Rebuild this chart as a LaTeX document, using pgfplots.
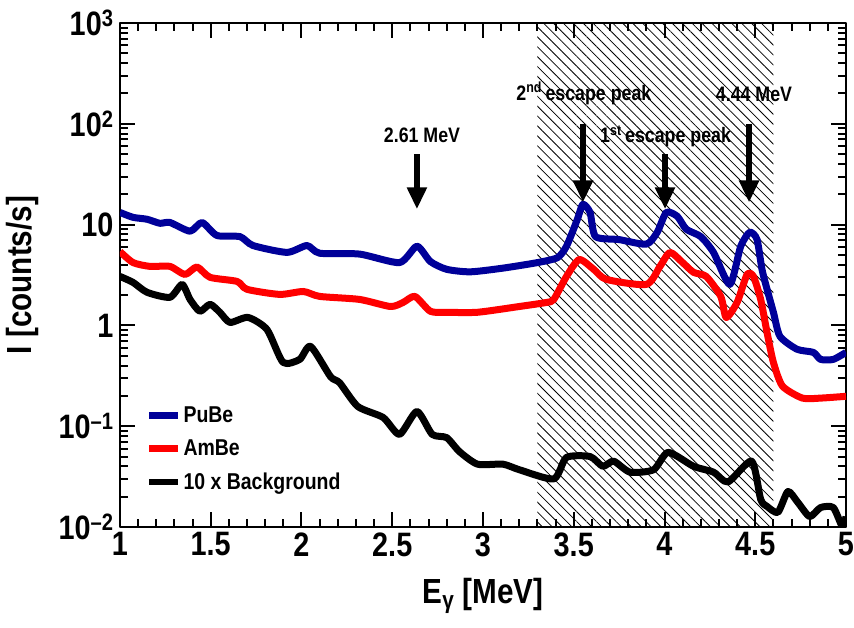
\documentclass[border=0pt]{standalone}
\usepackage{fontspec}
\setmainfont{Liberation Sans}[FakeStretch=0.85]
\usepackage{pgfplots}
\usepackage{pgfplotstable}
\pgfplotsset{compat=1.18}
\usetikzlibrary{patterns.meta,arrows.meta}
\definecolor{rootblue}{RGB}{0,0,153}
\definecolor{rootred}{RGB}{255,0,0}

\pgfplotstableread{
x y
1.000 13.2
1.072 11.8
1.149 11.3
1.220 10.3
1.275 10.5
1.386 8.6
1.452 10.5
1.534 7.8
1.661 7.6
1.733 6.2
1.920 5.3
2.030 6.2
2.100 5.2
2.320 5.1
2.540 4.2
2.636 6.1
2.710 4.3
2.800 3.6
2.930 3.4
3.110 3.7
3.300 4.2
3.410 4.7
3.460 6.1
3.520 11.3
3.550 15.9
3.590 13.2
3.620 7.6
3.750 7.1
3.900 6.4
3.960 8.4
4.010 13.2
4.070 12.1
4.120 9.0
4.200 7.6
4.270 5.3
4.360 2.55
4.420 6.1
4.470 8.4
4.510 7.1
4.540 3.4
4.600 1.35
4.636 0.78
4.730 0.58
4.820 0.54
4.860 0.46
4.930 0.46
5.000 0.54
}\pube

\pgfplotstableread{
x y
1.000 5.4
1.072 4.2
1.165 3.85
1.275 3.85
1.358 3.2
1.424 3.8
1.496 3.0
1.645 2.73
1.700 2.28
1.880 2.03
2.010 2.17
2.100 1.94
2.320 1.81
2.490 1.54
2.560 1.69
2.625 1.94
2.710 1.38
2.800 1.35
2.970 1.35
3.200 1.54
3.350 1.69
3.390 1.81
3.460 3.06
3.530 4.5
3.610 3.6
3.680 2.86
3.900 2.55
3.975 3.85
4.030 5.3
4.100 4.2
4.160 3.36
4.230 3.06
4.310 1.94
4.340 1.2
4.400 1.69
4.455 3.2
4.490 3.06
4.530 1.81
4.565 0.85
4.600 0.43
4.650 0.25
4.760 0.19
4.860 0.19
5.000 0.198
}\ambe

\pgfplotstableread{
x y
1.000 3.06
1.072 2.67
1.149 2.13
1.275 1.9
1.342 2.55
1.386 1.81
1.440 1.38
1.496 1.62
1.550 1.35
1.606 1.07
1.705 1.2
1.810 0.91
1.898 0.43
1.990 0.46
2.050 0.62
2.160 0.31
2.210 0.27
2.310 0.157
2.450 0.122
2.540 0.083
2.636 0.14
2.720 0.083
2.800 0.077
2.870 0.056
2.970 0.042
3.110 0.042
3.200 0.037
3.390 0.030
3.460 0.049
3.590 0.050
3.660 0.040
3.720 0.045
3.810 0.035
3.940 0.037
4.020 0.055
4.160 0.040
4.270 0.035
4.350 0.028
4.480 0.045
4.530 0.0188
4.565 0.016
4.625 0.014
4.680 0.0225
4.735 0.0175
4.800 0.0127
4.860 0.0156
4.930 0.0156
4.980 0.0101
5.000 0.0127
}\bkg

\begin{document}
\begin{tikzpicture}
\useasboundingbox (-120bp,-101bp) rectangle (734bp,527bp);
\begin{axis}[
  scale only axis, width=726bp, height=504bp,
  xmin=1, xmax=5, ymode=log, ymin=0.01, ymax=1000,
  xtick={1,1.5,2,2.5,3,3.5,4,4.5,5},
  xticklabels={1,1.5,2,2.5,3,3.5,4,4.5,5},
  minor x tick num=4,
  ytick={0.01,0.1,1,10,100,1000},
  yticklabels={10\textsuperscript{–2},10\textsuperscript{–1},1,10,10\textsuperscript{2},10\textsuperscript{3}},
  tick align=inside,
  major tick length=15bp, minor tick length=8bp,
  axis line style={line width=2.5bp},
  every tick/.style={line width=2bp, black},
  ticklabel style={font=\fontsize{34}{34}\selectfont\bfseries},
  xticklabel style={yshift=-2bp},
  yticklabel style={xshift=-3bp},
  xlabel={E\textsubscript{γ} [MeV]},
  ylabel={I [counts/s]},
  label style={font=\fontsize{35}{35}\selectfont\bfseries},
  xlabel style={at={(rel axis cs:0.5,0)}, anchor=north, yshift=-48bp},
  ylabel style={at={(rel axis cs:0,0.5)}, anchor=south, yshift=78bp},
  legend style={draw=none, fill=none, at={(0.0315,0.247)}, anchor=north west,
    font=\fontsize{23}{23}\selectfont\bfseries, row sep=12bp},
  legend cell align=left,
  legend image code/.code={\draw[#1, line width=6.5bp] (0bp,0bp) -- (29bp,0bp);},
  line join=round,
]
\addplot[forget plot, draw=none, pattern={Lines[angle=-45,distance=7bp,line width=0.8bp]}, pattern color=black]
  coordinates {(3.3,0.01) (3.3,1000) (4.6,1000) (4.6,0.01)} -- cycle;
\addplot[rootblue, line width=7bp, smooth, tension=0.4] table {\pube};
\addlegendentry{PuBe}
\addplot[rootred, line width=7bp, smooth, tension=0.4] table {\ambe};
\addlegendentry{AmBe}
\addplot[black, line width=7bp, smooth, tension=0.4] table {\bkg};
\addlegendentry{10 x Background}
\addplot[forget plot, line width=6bp, -{Triangle[width=19bp,length=22bp]}] coordinates {(2.636,49.7) (2.636,14.2)};
\addplot[forget plot, line width=6bp, -{Triangle[width=19bp,length=22bp]}] coordinates {(3.551,98.6) (3.551,16.6)};
\addplot[forget plot, line width=6bp, -{Triangle[width=19bp,length=22bp]}] coordinates {(4.003,49.7) (4.003,14.2)};
\addplot[forget plot, line width=6bp, -{Triangle[width=19bp,length=22bp]}] coordinates {(4.466,98.6) (4.466,16.6)};
\node[font=\fontsize{21}{21}\selectfont\bfseries] at (axis cs:2.664,76.7) {2.61 MeV};
\node[font=\fontsize{21}{21}\selectfont\bfseries] at (axis cs:3.556,200) {2\textsuperscript{nd}\,escape peak};
\node[font=\fontsize{21}{21}\selectfont\bfseries] at (axis cs:4.006,75) {1\textsuperscript{st}\,escape peak};
\node[font=\fontsize{21}{21}\selectfont\bfseries] at (axis cs:4.493,195) {4.44 MeV};
\end{axis}
\end{tikzpicture}
\end{document}
